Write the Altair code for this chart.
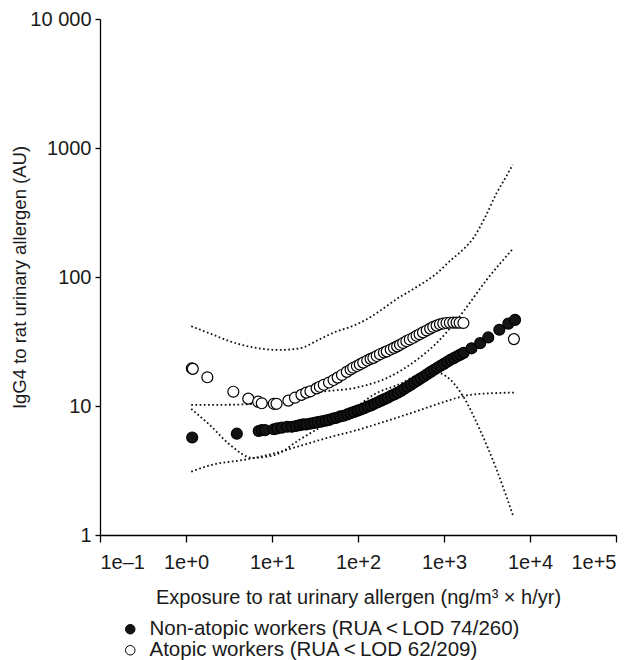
import altair as alt
import pandas as pd

FONT = "Liberation Sans"
NON = "Non-atopic workers (RUA\u2009<\u2009LOD 74/260)"
ATO = "Atopic workers (RUA\u2009<\u2009LOD 62/209)"

# Non-atopic workers (filled circles)
nonatopic_x = [1.18, 3.9, 7.0, 7.6, 8.3, 10.5, 11.5, 13, 15, 17, 19, 21, 23, 25, 28,
               31, 34, 38, 42, 46, 51, 56, 62, 68, 75, 82, 90, 99, 108, 118,
               130, 142, 155, 170, 186, 203, 222, 243, 265, 290, 317, 346, 378, 413, 451,
               493, 538, 588, 642, 701, 766, 836, 913, 997, 1090, 1190, 1300, 1420, 1550, 1690,
               2090, 2630, 3270, 4400, 5600, 6700]
nonatopic_y = [5.7, 6.1, 6.4, 6.5, 6.5, 6.6, 6.7, 6.8, 6.9, 6.9, 7.0, 7.1, 7.2, 7.2, 7.3,
               7.4, 7.5, 7.6, 7.7, 7.8, 8.0, 8.1, 8.3, 8.4, 8.6, 8.8, 9.0, 9.2, 9.4, 9.6,
               9.9, 10.1, 10.4, 10.7, 11.0, 11.3, 11.6, 12.0, 12.3, 12.7, 13.1, 13.6, 14.1, 14.6, 15.2,
               15.8, 16.4, 17.0, 17.7, 18.4, 19.1, 19.8, 20.5, 21.2, 22.0, 22.8, 23.5, 24.3, 25.0, 25.8,
               28.0, 30.7, 34.0, 39.0, 43.5, 46.5]

# Atopic workers (open circles)
atopic_x = [1.17, 1.20, 1.77, 3.55, 5.3, 6.9, 7.6, 10.5, 11.3, 15.5, 18.5, 22, 25, 28, 33,
            36, 40, 46, 52, 58, 65, 74, 82, 88, 97, 105, 115, 128, 140, 151,
            165, 180, 200, 216, 240, 262, 285, 308, 335, 365, 400, 440, 480, 520, 570,
            629, 690, 750, 820, 898, 980, 1070, 1170, 1283, 1400, 1520, 1680, 6500]
atopic_y = [19.6, 19.4, 16.7, 12.9, 11.4, 10.8, 10.5, 10.4, 10.4, 11.0, 11.6, 12.2, 12.7, 13.0, 13.7,
            14.1, 14.6, 15.2, 15.9, 16.6, 17.4, 18.4, 19.2, 19.8, 20.4, 21.0, 21.7, 22.5, 23.2, 23.6,
            24.4, 25.2, 26.0, 26.5, 27.4, 28.2, 29.0, 29.8, 30.8, 31.8, 32.8, 33.8, 35.0, 36.0, 37.2,
            38.5, 39.8, 41.0, 42.0, 43.0, 43.6, 44.0, 44.2, 44.3, 44.3, 44.2, 44.0, 33.0]

# Dotted confidence limits
atopic_upper_x = [1.15, 2, 3.3, 6, 12, 21, 36, 52, 97, 126, 307, 500, 800, 1200, 1665, 2190, 3000, 4100, 5200, 6300]
atopic_upper_y = [41.5, 36, 31.6, 28.5, 27.2, 28, 33, 37, 43, 47, 70, 85, 105, 135, 163, 200, 290, 448, 590, 742]

atopic_lower_x = [1.15, 1.9, 3.25, 6, 10.8, 21, 36, 60, 105, 151, 306, 575, 800, 1074, 1680, 2625, 4100, 6400]
atopic_lower_y = [9.5, 7.1, 5.0, 3.96, 4.17, 5.5, 6.8, 8.3, 10.3, 12.2, 14.8, 18.0, 18.2, 16.9, 11.8, 6.5, 3.2, 1.39]

nonatopic_upper_x = [1.15, 2, 5, 10, 20, 36, 97, 235, 482, 822, 1100, 1680, 3130, 6200]
nonatopic_upper_y = [10.2, 10.2, 10.3, 10.6, 11.7, 12.8, 13.9, 16.9, 22.8, 30.8, 38, 54, 95, 163]

nonatopic_lower_x = [1.15, 2, 5, 10, 20, 50, 97, 235, 500, 900, 2000, 4000, 6500]
nonatopic_lower_y = [3.1, 3.5, 3.85, 4.25, 4.85, 5.8, 6.5, 7.8, 9.2, 10.5, 12.2, 12.6, 12.7]

x_ticks = [0.1, 1, 10, 100, 1000, 10000, 100000]
y_ticks = [1, 10, 100, 1000, 10000]

points = pd.DataFrame({
    "exposure": nonatopic_x + atopic_x,
    "igg4": nonatopic_y + atopic_y,
    "group": [NON] * len(nonatopic_x) + [ATO] * len(atopic_x),
})
points["order"] = range(len(points))

rows = []
for name, xs, ys in [("atopic_upper", atopic_upper_x, atopic_upper_y),
                     ("atopic_lower", atopic_lower_x, atopic_lower_y),
                     ("nonatopic_upper", nonatopic_upper_x, nonatopic_upper_y),
                     ("nonatopic_lower", nonatopic_lower_x, nonatopic_lower_y)]:
    for i, (a, b) in enumerate(zip(xs, ys)):
        rows.append({"curve": name, "exposure": a, "igg4": b, "order": i})
lines = pd.DataFrame(rows)

xscale = alt.Scale(type="log", domain=[0.1, 100000], nice=False)
yscale = alt.Scale(type="log", domain=[1, 10000], nice=False)

xaxis = alt.Axis(
    values=x_ticks,
    labelExpr="datum.value < 0.5 ? '1e\u20131' : '1e+' + format(log(datum.value) / LN10, '.0f')",
    title="Exposure to rat urinary allergen (ng/m\u00b3 \u00d7 h/yr)",
    grid=False, tickSize=7, labelPadding=10, titlePadding=15,
    labelFont=FONT, labelFontSize=20, labelColor="#1a1a1a", labelOverlap=False,
    titleFont=FONT, titleFontSize=20, titleFontWeight="normal", titleColor="#1a1a1a",
    domainColor="black", tickColor="black", domainWidth=1.3, tickWidth=1.3,
)
yaxis = alt.Axis(
    values=y_ticks,
    labelExpr="datum.value >= 10000 ? '10 000' : format(datum.value, 'd')",
    title="IgG4 to rat urinary allergen (AU)",
    grid=False, tickSize=5, labelPadding=4, titlePadding=0,
    labelFont=FONT, labelFontSize=20, labelColor="#1a1a1a", labelOverlap=False,
    titleFont=FONT, titleFontSize=18.5, titleFontWeight="normal", titleColor="#1a1a1a",
    domainColor="black", tickColor="black", domainWidth=1.3, tickWidth=1.3,
)

line_layer = alt.Chart(lines).mark_line(
    strokeDash=[1.7, 2.5], strokeWidth=1.8, color="#111111", interpolate="monotone"
).encode(
    x=alt.X("exposure:Q", scale=xscale, axis=xaxis),
    y=alt.Y("igg4:Q", scale=yscale, axis=yaxis),
    detail="curve:N",
    order="order:Q",
)

point_layer = alt.Chart(points).mark_point(
    shape="circle", filled=True, size=120, stroke="black", strokeWidth=1.2, opacity=1
).encode(
    x=alt.X("exposure:Q", scale=xscale),
    y=alt.Y("igg4:Q", scale=yscale),
    fill=alt.Fill("group:N", scale=alt.Scale(domain=[NON, ATO], range=["#141414", "#ffffff"]),
                  legend=alt.Legend(title=None, orient="none", legendX=20, legendY=600,
                                    direction="vertical", symbolType="circle", symbolSize=90,
                                    symbolStrokeColor="black", symbolStrokeWidth=1,
                                    labelFont=FONT, labelFontSize=20.5, labelColor="#1a1a1a",
                                    labelOffset=9, rowPadding=-1, padding=0, labelLimit=0)),
    order="order:Q",
)

chart = alt.layer(line_layer, point_layer).properties(
    width=516, height=516,
    padding={"left": 100, "top": 19, "right": 18, "bottom": 125},
    autosize=alt.AutoSizeParams(type="none"),
).configure_view(stroke=None)

chart.save("out.html", embed_options={"renderer": "svg", "actions": False})
